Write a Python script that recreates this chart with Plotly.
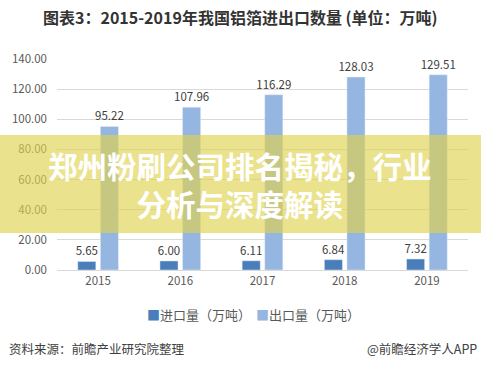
import plotly.graph_objects as go

years = ["2015", "2016", "2017", "2018", "2019"]
imports = [5.65, 6.00, 6.11, 6.84, 7.32]
exports = [95.22, 107.96, 116.29, 128.03, 129.51]
import_name = "进口量（万吨）"
export_name = "出口量（万吨）"
title_text = "图表3：2015-2019年我国铝箔进出口数量 (单位：万吨)"
banner_lines = ["郑州粉刷公司排名揭秘，行业", "分析与深度解读"]
source_text = "资料来源：前瞻产业研究院整理"
credit_text = "@前瞻经济学人APP"

W, H = 481, 370
ML, MR, MT, MB = 57, 13, 59, 100
PH = H - MT - MB
PW = W - ML - MR

def py(pix):
    return (H - MB - pix) / PH

def px(pix):
    return (pix - ML) / PW

font_cjk = "Noto Sans CJK SC, Noto Sans, sans-serif"
imp_color = "#4a7ebb"
exp_color = "#95b6e0"

fig = go.Figure()
fig.add_trace(go.Bar(
    x=years, y=imports, name=import_name,
    marker_color=imp_color,
    text=[f"{v:.2f}" for v in imports], textposition="outside",
    textfont=dict(size=11.5, color="#404040"), cliponaxis=False,
    constraintext="none", hoverinfo="skip",
))
fig.add_trace(go.Bar(
    x=years, y=exports, name=export_name,
    marker_color=exp_color,
    text=[f"{v:.2f}" for v in exports], textposition="outside",
    textfont=dict(size=11.5, color="#404040"), cliponaxis=False,
    constraintext="none", hoverinfo="skip",
))

fig.update_layout(
    width=W, height=H,
    margin=dict(l=ML, r=MR, t=MT, b=MB, autoexpand=False),
    paper_bgcolor="white", plot_bgcolor="white",
    barmode="group", bargap=0.45, bargroupgap=0.2,
    font=dict(family=font_cjk, color="#595959", size=11),
    showlegend=False,
    xaxis=dict(showgrid=False, showline=True, linecolor="#d9d9d9", ticks="",
               automargin=False, tickfont=dict(size=11.5, color="#595959")),
    yaxis=dict(range=[0, 140], dtick=20, tickformat=".2f", showgrid=True,
               gridcolor="#d9d9d9", zeroline=False, showline=False,
               automargin=False,
               tickfont=dict(size=11.5, color="#595959"), ticklabelstandoff=9),
    annotations=[
        dict(text=f"<b>{title_text}</b>", xref="paper", yref="paper",
             x=px(240), y=py(17), xanchor="center", yanchor="middle",
             showarrow=False, font=dict(size=16, color="#333333", family=font_cjk)),
        dict(text="<b>" + "<br>".join(banner_lines) + "</b>", xref="paper", yref="paper",
             x=px(240), y=py(184), xanchor="center", yanchor="middle", align="center",
             showarrow=False, font=dict(size=29.5, color="white", family=font_cjk)),
        dict(text=f"<span style='color:{imp_color}'>■</span>{import_name}",
             xref="paper", yref="paper",
             x=px(145), y=py(314), xanchor="left", yanchor="middle",
             showarrow=False, font=dict(size=13, color="#595959", family=font_cjk)),
        dict(text=f"<span style='color:{exp_color}'>■</span>{export_name}",
             xref="paper", yref="paper",
             x=px(254), y=py(314), xanchor="left", yanchor="middle",
             showarrow=False, font=dict(size=13, color="#595959", family=font_cjk)),
        dict(text=source_text, xref="paper", yref="paper",
             x=px(7), y=py(348), xanchor="left", yanchor="middle",
             showarrow=False, font=dict(size=12.5, color="#404040", family=font_cjk)),
        dict(text=credit_text, xref="paper", yref="paper",
             x=px(479), y=py(348), xanchor="right", yanchor="middle",
             showarrow=False, font=dict(size=12.5, color="#404040", family=font_cjk)),
    ],
    shapes=[
        dict(type="rect", xref="paper", yref="paper",
             x0=px(0), x1=px(W), y0=py(233), y1=py(135), line=dict(width=0),
             fillcolor="rgba(225,210,80,0.65)", layer="above"),
    ],
)

fig.write_html("out.html",
               config={"displayModeBar": False},
               post_script="document.body.style.margin='0px';document.body.style.overflow='hidden';")
